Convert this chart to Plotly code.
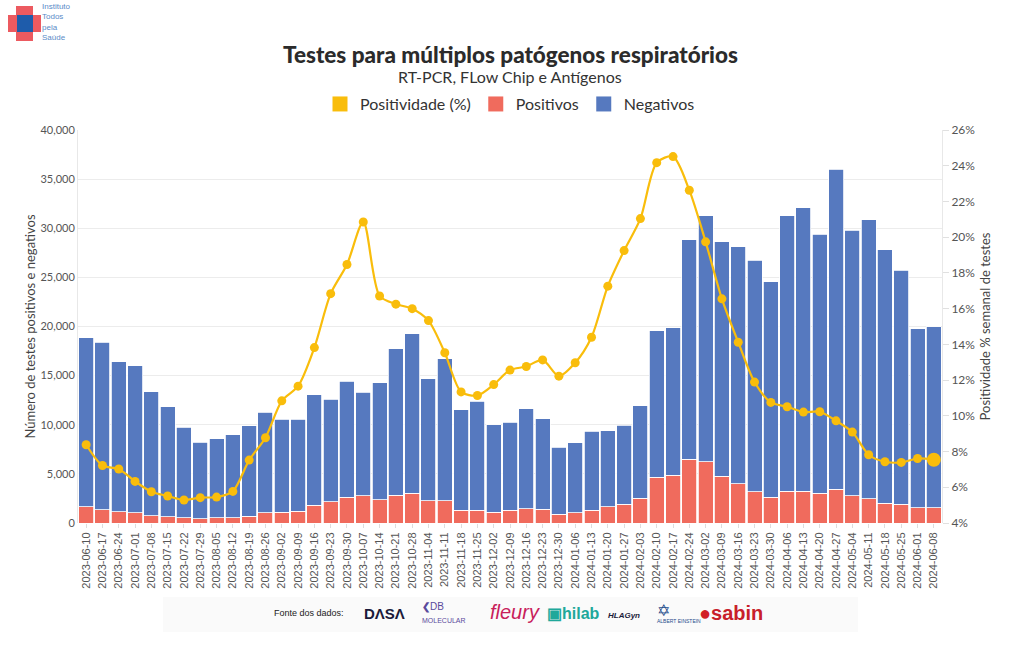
import plotly.graph_objects as go

weeks = ["2023-06-10","2023-06-17","2023-06-24","2023-07-01","2023-07-08","2023-07-15","2023-07-22","2023-07-29",
         "2023-08-05","2023-08-12","2023-08-19","2023-08-26","2023-09-02","2023-09-09","2023-09-16","2023-09-23",
         "2023-09-30","2023-10-07","2023-10-14","2023-10-21","2023-10-28","2023-11-04","2023-11-11","2023-11-18",
         "2023-11-25","2023-12-02","2023-12-09","2023-12-16","2023-12-23","2023-12-30","2024-01-06","2024-01-13",
         "2024-01-20","2024-01-27","2024-02-03","2024-02-10","2024-02-17","2024-02-24","2024-03-02","2024-03-09",
         "2024-03-16","2024-03-23","2024-03-30","2024-04-06","2024-04-13","2024-04-20","2024-04-27","2024-05-04",
         "2024-05-11","2024-05-18","2024-05-25","2024-06-01","2024-06-08"]

totals = [18880,18410,16400,16030,13350,11830,9760,8240,8600,8980,9900,11290,10580,10580,13050,12610,
          14440,13320,14270,17760,19250,14680,16710,11520,12370,10000,10230,11620,10610,7690,8170,9320,
          9390,9970,11930,19560,19860,28810,31290,28640,28100,26750,24570,31290,32100,29390,36030,29800,
          30880,27830,25730,19790,19960]

positivos = [1630,1360,1150,1020,745,640,510,410,510,510,710,1020,1120,1220,1830,2140,
             2640,2780,2370,2850,3050,2240,2240,1320,1320,1120,1280,1450,1420,915,1020,1320,
             1630,1930,2540,4680,4880,6510,6240,4780,3970,3180,2640,3250,3250,3010,3460,2750,
             2470,2030,1930,1560,1560]

negativos = [t - p for t, p in zip(totals, positivos)]

positividade = [8.38,7.22,7.02,6.33,5.75,5.51,5.29,5.42,5.45,5.77,7.52,8.77,10.84,11.66,13.82,16.84,
                18.47,20.85,16.71,16.25,16.00,15.33,13.53,11.34,11.14,11.75,12.56,12.76,13.13,12.22,12.97,14.40,
                17.26,19.25,21.04,24.17,24.51,22.63,19.74,16.55,14.12,11.89,10.75,10.51,10.21,10.23,9.72,9.09,
                7.82,7.43,7.39,7.61,7.54]

legend_names = ["Positividade (%)", "Positivos", "Negativos"]

YELLOW = "#F9BD0B"
RED = "#F06B5D"
BLUE = "#5679BF"
FONT = "Lato"

fig = go.Figure()

fig.add_trace(go.Bar(x=weeks, y=positivos, name=legend_names[1], showlegend=False,
                     marker=dict(color=RED, line=dict(color="white", width=0.8))))
fig.add_trace(go.Bar(x=weeks, y=negativos, name=legend_names[2], showlegend=False,
                     marker=dict(color=BLUE, line=dict(color="white", width=0.8))))

sizes = [9]*(len(weeks)-1) + [14]
fig.add_trace(go.Scatter(x=weeks, y=positividade, yaxis="y2", mode="lines+markers",
                         name=legend_names[0], showlegend=False,
                         line=dict(color=YELLOW, width=2.2, shape="spline", smoothing=0.8),
                         marker=dict(color=YELLOW, size=sizes, opacity=1, line=dict(width=0))))

# legend entries with square symbols, as in the reference
for nm, col in zip(legend_names, [YELLOW, RED, BLUE]):
    fig.add_trace(go.Scatter(x=[None], y=[None], mode="markers", name=nm, showlegend=True,
                             marker=dict(symbol="square", size=15, color=col, line=dict(width=0)),
                             hoverinfo="skip"))

fig.update_layout(
    template="none",
    width=1020, height=650,
    margin=dict(l=78, r=78, t=130, b=127),
    paper_bgcolor="white", plot_bgcolor="white",
    barmode="stack", bargap=0.08,
    font=dict(family=FONT, color="#444", size=12),
    showlegend=True,
    legend=dict(orientation="h", x=0.5, xanchor="center", y=1.066, yanchor="middle",
                font=dict(size=16, color="#333"), traceorder="normal",
                itemwidth=30, bgcolor="rgba(0,0,0,0)"),
    xaxis=dict(type="category", range=[-0.5, len(weeks) - 0.5], autorange=False,
               tickangle=-90, tickfont=dict(size=11, color="#555", family="Liberation Sans"),
               showgrid=False, ticks="outside", ticklen=4, tickcolor="#ddd",
               showline=False, automargin=False, zeroline=False),
    yaxis=dict(range=[0, 40000], dtick=5000, tickformat=",", showgrid=True, gridcolor="#ececec",
               tickfont=dict(size=11, color="#555"), showline=True, linecolor="#e8e8e8",
               zeroline=False, automargin=False, ticks="",
               title=dict(text="Número de testes positivos e negativos", font=dict(size=13, color="#444"))),
    yaxis2=dict(range=[4, 26], dtick=2, ticksuffix="%", overlaying="y", side="right",
                showgrid=False, tickfont=dict(size=12, color="#555"), automargin=False,
                ticks="outside", ticklen=6, tickcolor="#e0e0e0", showline=True, linecolor="#e8e8e8",
                zeroline=False,
                title=dict(text="Positividade % semanal de testes", font=dict(size=13, color="#444"))),
)

def px(xp, yp):
    return (xp - 78) / (1020 - 156), (650 - 127 - yp) / (650 - 257)

shapes = []
# red cross (logo)
for (x0, y0, x1, y1) in [(16, 6, 33, 41), (8, 15, 41, 32)]:
    a0, b0 = px(x0, y1); a1, b1 = px(x1, y0)
    shapes.append(dict(type="rect", xref="paper", yref="paper", x0=a0, x1=a1, y0=b0, y1=b1,
                       fillcolor="#EC5A60", line=dict(width=0), layer="above"))
a0, b0 = px(17, 32); a1, b1 = px(33, 15)
shapes.append(dict(type="rect", xref="paper", yref="paper", x0=a0, x1=a1, y0=b0, y1=b1,
                   fillcolor="#1E5CAB", line=dict(width=0), layer="above"))
# faint footer band
a0, b0 = px(163, 632); a1, b1 = px(858, 597)
shapes.append(dict(type="rect", xref="paper", yref="paper", x0=a0, x1=a1, y0=b0, y1=b1,
                   fillcolor="#fafafa", line=dict(width=0), layer="below"))
fig.update_layout(shapes=shapes)

ann = []
def add_text(xp, yp, text, size, color, family="Liberation Sans", xanchor="left", weight=None):
    a, b = px(xp, yp)
    f = dict(size=size, color=color, family=family)
    if weight:
        f["weight"] = weight
    ann.append(dict(xref="paper", yref="paper", x=a, y=b, text=text, showarrow=False,
                    xanchor=xanchor, yanchor="middle", align="left", font=f))

add_text(510, 54, "Testes para múltiplos patógenos respiratórios", 22.5, "#2b2b2b", FONT, "center", 900)
add_text(510, 76, "RT-PCR, FLow Chip e Antígenos", 16, "#333", FONT, "center")
add_text(40, 22, "Instituto<br>Todos<br>pela<br>Saúde", 8, "#5A8BC8")
add_text(272, 613, "Fonte dos dados:", 9, "#222")
add_text(362, 613, "<b>DΛSΛ</b>", 15, "#1b1b3a")
add_text(420, 612, "<b>❮</b>DB<br><span style='font-size:7px'>MOLECULAR</span>", 10, "#5a4a9c")
add_text(488, 612, "<i>fleury</i>", 20, "#C8205A")
add_text(545, 613, "<b>▣hilab</b>", 16, "#20A89A")
add_text(606, 615, "<b><i>HLAGyn</i></b>", 8, "#1b1b3a")
add_text(655, 613, "<span style='font-size:16px;color:#1f4c8c'>✡</span><br>ALBERT EINSTEIN", 5, "#1f4c8c")
add_text(697, 613, "<span style='color:#D21F26'>●</span><b>sabin</b>", 20, "#C8202A")
fig.update_layout(annotations=ann)

fig.write_html("out.html")
